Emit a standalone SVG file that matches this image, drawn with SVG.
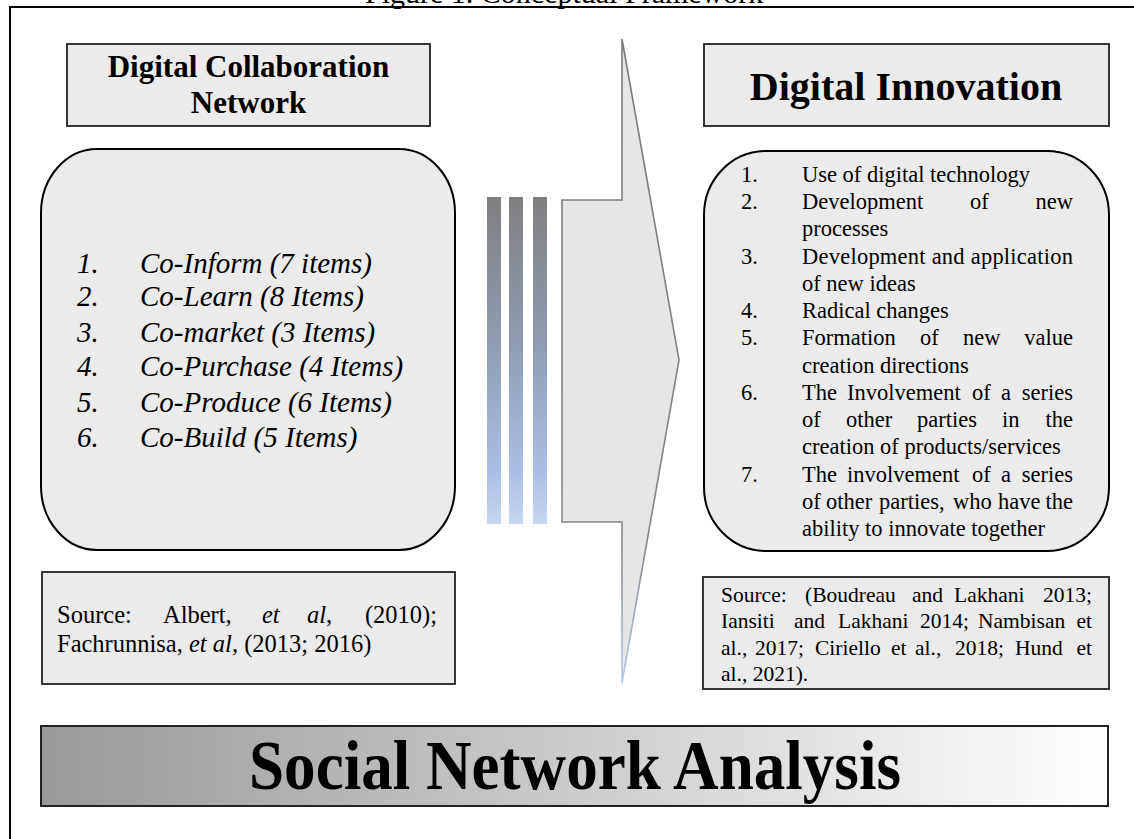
<svg xmlns="http://www.w3.org/2000/svg" width="1134" height="839" viewBox="0 0 1134 839">
  <style>
    .serif { font-family: "Liberation Serif", "Times New Roman", serif; fill: #000; }
    .title { font-weight: bold; }
    .box { fill: #ebebeb; stroke: #222; stroke-width: 1.8; }
    .rbox { fill: #ebebeb; stroke: #000; stroke-width: 2; }
    .list { font-size: 29px; font-style: italic; }
    .item { font-size: 22.5px; }
    .src-l { font-size: 24.5px; }
    .src-r { font-size: 21.5px; }
    .it { font-style: italic; }
  </style>
  <defs>
    <linearGradient id="barGrad" x1="0" y1="0" x2="0" y2="1">
      <stop offset="0" stop-color="#7f7f7f"/>
      <stop offset="0.45" stop-color="#909cb2"/>
      <stop offset="0.85" stop-color="#abc0e6"/>
      <stop offset="1" stop-color="#c8d6f0"/>
    </linearGradient>
    <linearGradient id="arrowStroke" gradientUnits="userSpaceOnUse" x1="0" y1="39" x2="0" y2="683">
      <stop offset="0" stop-color="#7a7a7a"/>
      <stop offset="0.78" stop-color="#858585"/>
      <stop offset="1" stop-color="#b4cbf2"/>
    </linearGradient>
    <linearGradient id="snaGrad" x1="0" y1="0" x2="1" y2="0">
      <stop offset="0" stop-color="#999999"/>
      <stop offset="1" stop-color="#ffffff"/>
    </linearGradient>
  </defs>

  <rect width="1134" height="839" fill="#ffffff"/>

  <!-- caption above the frame (runs off the top edge of the page) -->
  <g id="caption">
    <text class="serif" x="365" y="2.5" font-size="30" fill="#444">Figure 1. Conceptual Framework</text>
  </g>

  <!-- outer frame -->
  <g id="frame">
    <path d="M10,845 V7 H1140" fill="none" stroke="#000" stroke-width="2"/>
  </g>

  <!-- connectors: gradient bars and the large block arrow -->
  <g id="connectors">
    <rect x="487" y="197" width="14" height="327" fill="url(#barGrad)"/>
    <rect x="509" y="197" width="14" height="327" fill="url(#barGrad)"/>
    <rect x="533" y="197" width="14" height="327" fill="url(#barGrad)"/>
    <polygon points="562,200 622,200 622,39 679,360 622,683 622,522 562,522"
             fill="#e6e6e6" stroke="url(#arrowStroke)" stroke-width="1.6" stroke-linejoin="miter"/>
  </g>

  <!-- Digital Collaboration Network title -->
  <g id="dcn-title">
    <rect class="box" x="67" y="44" width="363" height="82"/>
    <text class="serif title" x="248.5" y="77" font-size="31" text-anchor="middle">Digital Collaboration</text>
    <text class="serif title" x="248.5" y="113" font-size="31" text-anchor="middle">Network</text>
  </g>

  <!-- Digital Collaboration Network items -->
  <g id="dcn-list">
    <rect class="rbox" x="41" y="149" width="414" height="401" rx="56" ry="64"/>
    <g class="serif list">
      <text x="77" y="273">1.</text><text x="140" y="273">Co-Inform (7 items)</text>
      <text x="77" y="306">2.</text><text x="140" y="306">Co-Learn (8 Items)</text>
      <text x="77" y="342">3.</text><text x="140" y="342">Co-market (3 Items)</text>
      <text x="77" y="376">4.</text><text x="140" y="376">Co-Purchase (4 Items)</text>
      <text x="77" y="412">5.</text><text x="140" y="412">Co-Produce (6 Items)</text>
      <text x="77" y="447">6.</text><text x="140" y="447">Co-Build (5 Items)</text>
    </g>
  </g>

  <!-- left source -->
  <g id="dcn-source">
    <rect class="box" x="42" y="572" width="413" height="112"/>
    <g class="serif src-l">
      <text y="623"><tspan x="57">Source:</tspan><tspan x="163">Albert,</tspan><tspan x="262" class="it">et</tspan><tspan x="307" class="it">al</tspan><tspan>,</tspan><tspan x="437" text-anchor="end">(2010);</tspan></text>
      <text x="57" y="652">Fachrunnisa, <tspan class="it">et al</tspan>, (2013; 2016)</text>
    </g>
  </g>

  <!-- Digital Innovation title -->
  <g id="di-title">
    <rect class="box" x="704" y="44" width="405" height="82"/>
    <text class="serif title" x="906" y="100" font-size="40" text-anchor="middle">Digital Innovation</text>
  </g>

  <!-- Digital Innovation items -->
  <g id="di-list">
    <rect class="rbox" x="704" y="151" width="405" height="400" rx="62" ry="64"/>
    <g class="serif item">
      <text x="741" y="182">1.</text>
      <text x="802" y="182">Use of digital technology</text>
      <text x="741" y="209">2.</text>
      <text y="209"><tspan x="802">Development</tspan><tspan x="970">of</tspan><tspan x="1073" text-anchor="end">new</tspan></text>
      <text x="802" y="236">processes</text>
      <text x="741" y="264">3.</text>
      <text x="802" y="264" textLength="271" lengthAdjust="spacing">Development and application</text>
      <text x="802" y="291">of new ideas</text>
      <text x="741" y="318">4.</text>
      <text x="802" y="318">Radical changes</text>
      <text x="741" y="345">5.</text>
      <text y="345"><tspan x="802">Formation</tspan><tspan x="920">of</tspan><tspan x="963">new</tspan><tspan x="1073" text-anchor="end">value</tspan></text>
      <text x="802" y="372.5">creation directions</text>
      <text x="741" y="400">6.</text>
      <text y="400"><tspan x="802">The</tspan><tspan x="847">Involvement</tspan><tspan x="972">of</tspan><tspan x="1001">a</tspan><tspan x="1073" text-anchor="end">series</tspan></text>
      <text y="427"><tspan x="802">of</tspan><tspan x="846">other</tspan><tspan x="917">parties</tspan><tspan x="1002">in</tspan><tspan x="1073" text-anchor="end">the</tspan></text>
      <text x="802" y="454">creation of products/services</text>
      <text x="741" y="481.5">7.</text>
      <text y="481.5"><tspan x="802">The</tspan><tspan x="847">involvement</tspan><tspan x="972">of</tspan><tspan x="1001">a</tspan><tspan x="1073" text-anchor="end">series</tspan></text>
      <text y="509"><tspan x="802">of</tspan><tspan x="826">other</tspan><tspan x="879">parties,</tspan><tspan x="953">who</tspan><tspan x="998">have</tspan><tspan x="1073" text-anchor="end">the</tspan></text>
      <text x="802" y="536">ability to innovate together</text>
    </g>
  </g>

  <!-- right source -->
  <g id="di-source">
    <rect class="box" x="703" y="577" width="406" height="112"/>
    <g class="serif src-r">
      <text y="602"><tspan x="721">Source:</tspan><tspan x="805">(Boudreau</tspan><tspan x="912">and</tspan><tspan x="954">Lakhani</tspan><tspan x="1092" text-anchor="end">2013;</tspan></text>
      <text y="628"><tspan x="721">Iansiti</tspan><tspan x="794">and</tspan><tspan x="838">Lakhani</tspan><tspan x="920">2014;</tspan><tspan x="978">Nambisan</tspan><tspan x="1092" text-anchor="end">et</tspan></text>
      <text y="655"><tspan x="721">al.,</tspan><tspan x="755">2017;</tspan><tspan x="815">Ciriello</tspan><tspan x="891">et</tspan><tspan x="915">al.,</tspan><tspan x="955">2018;</tspan><tspan x="1015">Hund</tspan><tspan x="1092" text-anchor="end">et</tspan></text>
      <text x="721" y="681">al., 2021).</text>
    </g>
  </g>

  <!-- Social Network Analysis banner -->
  <g id="sna">
    <rect x="41" y="726" width="1067" height="80" fill="url(#snaGrad)" stroke="#222" stroke-width="2"/>
    <text class="serif title" x="575" y="789" font-size="70" text-anchor="middle" textLength="652" lengthAdjust="spacingAndGlyphs">Social Network Analysis</text>
  </g>
</svg>
